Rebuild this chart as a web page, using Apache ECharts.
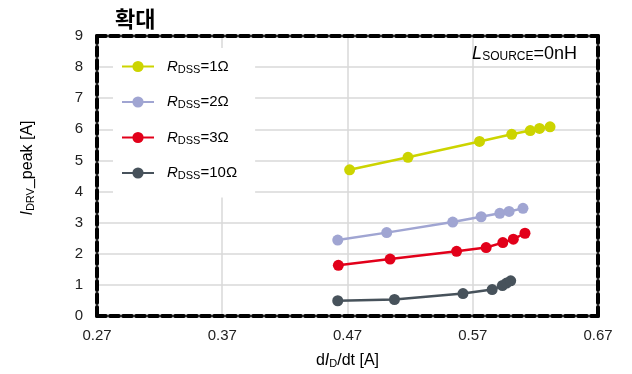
<!DOCTYPE html>
<html>
<head>
<meta charset="utf-8">
<script src="https://cdn.jsdelivr.net/npm/echarts@6/dist/echarts.min.js"></script>
<style>
  html, body { margin: 0; padding: 0; background: #fff; overflow: hidden; }
  #chart { width: 632px; height: 374px; }
</style>
</head>
<body>
<div id="chart"></div>
<script>
// Peak driver current vs. dI_D/dt for several R_DSS values (L_SOURCE = 0 nH)
const seriesNames = ['1Ω', '2Ω', '3Ω', '10Ω'];
const seriesColors = ['#ccd400', '#a0a5d2', '#e2001a', '#47525b'];

const didt_r1 = [0.4717, 0.5183, 0.5754, 0.6011, 0.6159, 0.6233, 0.6317];
const ipk_r1 = [4.70, 5.10, 5.61, 5.84, 5.96, 6.03, 6.08];
const didt_r2 = [0.4622, 0.5013, 0.5540, 0.5767, 0.5916, 0.5990, 0.6101];
const ipk_r2 = [2.44, 2.68, 3.02, 3.19, 3.30, 3.36, 3.46];
const didt_r3 = [0.4627, 0.5040, 0.5571, 0.5807, 0.5940, 0.6024, 0.6117];
const ipk_r3 = [1.63, 1.83, 2.08, 2.20, 2.36, 2.47, 2.66];
const didt_r10 = [0.4622, 0.5075, 0.5622, 0.5855, 0.5937, 0.5970, 0.6003];
const ipk_r10 = [0.49, 0.53, 0.72, 0.85, 0.98, 1.06, 1.13];

const xMin = 0.27, xMax = 0.67, xStep = 0.1;
const yMin = 0, yMax = 9, yStep = 1;

const xs = [didt_r1, didt_r2, didt_r3, didt_r10];
const ys = [ipk_r1, ipk_r2, ipk_r3, ipk_r10];

const FONT = '"Liberation Sans", Arial, sans-serif';
const border = { color: '#000', width: 4, type: [9, 4] };
const grid = { left: 97, right: 34, top: 36, bottom: 55 };

const series = seriesNames.map((n, i) => ({
  name: 'R_DSS=' + n,
  type: 'line',
  xAxisIndex: 0,
  yAxisIndex: 0,
  data: xs[i].map((x, k) => [x, ys[i][k]]),
  symbol: 'circle',
  symbolSize: 11,
  showSymbol: true,
  color: seriesColors[i],
  lineStyle: { width: 2.5, color: seriesColors[i] },
  itemStyle: { color: seriesColors[i] },
  z: 5
}));

const chart = echarts.init(document.getElementById('chart'), null, { renderer: 'canvas', width: 632, height: 374 });
chart.setOption({
  animation: false,
  backgroundColor: '#fff',
  textStyle: { fontFamily: FONT },
  title: {
    text: '확대',
    left: 110,
    top: 3,
    textStyle: { fontFamily: '"Noto Sans CJK KR", sans-serif', fontSize: 22, fontWeight: 'bold', color: '#000' }
  },
  grid: grid,
  legend: {
    orient: 'vertical',
    left: 113,
    top: 48,
    padding: [11, 18, 16, 8],
    backgroundColor: '#fff',
    itemWidth: 32,
    itemHeight: 14,
    itemGap: 19.5,
    z: 4,
    data: series.map(s => s.name),
    formatter: name => '{i|R}{sub|DSS}{n|=' + name.split('=')[1] + '}',
    textStyle: {
      padding: [0, 0, 0, 8],
      rich: {
        i: { fontFamily: FONT, fontSize: 15, fontStyle: 'italic', color: '#000' },
        sub: { fontFamily: FONT, fontSize: 11, color: '#000', padding: [6, 0, 0, 0] },
        n: { fontFamily: FONT, fontSize: 15, color: '#000' }
      }
    }
  },
  xAxis: [{
    type: 'value',
    min: xMin, max: xMax, interval: xStep,
    position: 'bottom',
    axisLine: { show: true, onZero: false, lineStyle: border },
    axisTick: { show: false },
    splitLine: { show: true, lineStyle: { color: '#d9d9d9', width: 1.5 } },
    axisLabel: { fontFamily: FONT, fontSize: 15, color: '#222', margin: 12,
      formatter: v => v.toFixed(2) },
    name: '{a|d}{i|I}{sub|D}{a|/dt [A]}',
    nameLocation: 'middle',
    nameGap: 36,
    nameTextStyle: {
      rich: {
        a: { fontFamily: FONT, fontSize: 16, color: '#000' },
        i: { fontFamily: FONT, fontSize: 16, fontStyle: 'italic', color: '#000' },
        sub: { fontFamily: FONT, fontSize: 11, color: '#000', padding: [6, 0, 0, 0] }
      }
    },
    z: 3
  }, {
    type: 'value',
    min: xMin, max: xMax, interval: xStep,
    position: 'top',
    axisLine: { show: true, onZero: false, lineStyle: border },
    axisTick: { show: false },
    axisLabel: { show: false },
    splitLine: { show: false },
    z: 3
  }],
  yAxis: [{
    type: 'value',
    min: yMin, max: yMax, interval: yStep,
    position: 'left',
    axisLine: { show: true, onZero: false, lineStyle: border },
    axisTick: { show: false },
    splitLine: { show: true, lineStyle: { color: '#d9d9d9', width: 1.5 } },
    axisLabel: { fontFamily: FONT, fontSize: 15, color: '#222', margin: 14 },
    name: '{i|I}{sub|DRV}{a|_peak [A]}',
    nameLocation: 'middle',
    nameGap: 61,
    nameTextStyle: {
      padding: [0, 0, 0, 16],
      rich: {
        a: { fontFamily: FONT, fontSize: 16, color: '#000' },
        i: { fontFamily: FONT, fontSize: 16, fontStyle: 'italic', color: '#000' },
        sub: { fontFamily: FONT, fontSize: 11, color: '#000', padding: [6, 0, 0, 0] }
      }
    },
    z: 3
  }, {
    type: 'value',
    min: yMin, max: yMax, interval: yStep,
    position: 'right',
    axisLine: { show: true, onZero: false, lineStyle: border },
    axisTick: { show: false },
    axisLabel: { show: false },
    splitLine: { show: false },
    z: 3
  }],
  graphic: [{
    type: 'text',
    right: 55,
    top: 45,
    z: 10,
    style: {
      text: '{i|L}{sub|SOURCE}{n|=0nH}',
      rich: {
        i: { fontFamily: FONT, fontSize: 18, fontStyle: 'italic', fill: '#000' },
        sub: { fontFamily: FONT, fontSize: 12, fill: '#000', padding: [6, 0, 0, 0] },
        n: { fontFamily: FONT, fontSize: 18, fill: '#000' }
      }
    }
  }],
  series: series
});
</script>
</body>
</html>
